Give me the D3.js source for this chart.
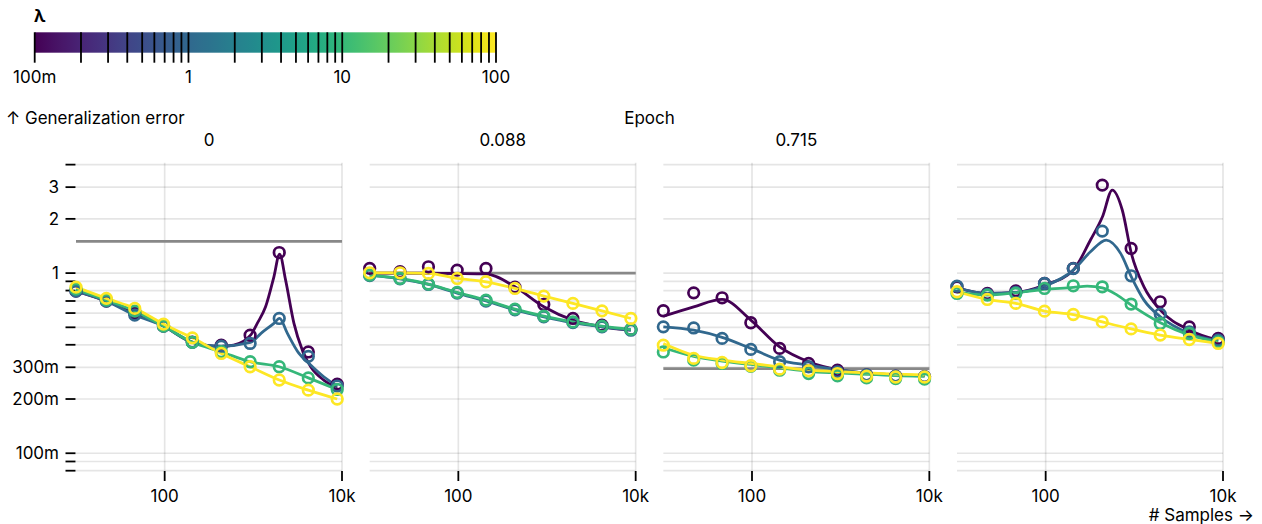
<!DOCTYPE html>
<html>
<head>
<meta charset="utf-8">
<script src="https://cdn.jsdelivr.net/npm/d3@7"></script>
<style>
  body { margin: 0; background: #fff; }
  svg { font-family: Inter, sans-serif; font-size: 17px; fill: #000; }
</style>
</head>
<body>
<script>
// regularisation strengths, one series each
const lambdas = [0.1, 1, 10, 100];
// facets
const epochs = ['0', '0.088', '0.715', ''];
const chanceLevel = [1.5, 1.0, 0.295, null];
const sampleSizes = [10, 22, 46, 97, 205, 435, 920, 1960, 4170, 8830];

const xTicks = [100, 10000];
const yTickLabels = [0.1, 0.2, 0.3, 1, 2, 3];
const legendTickLabels = [0.1, 1, 10, 100];

// measured error (circles), one row per lambda
const measured0 = [
  [0.794, 0.699, 0.600, 0.508, 0.414, 0.398, 0.452, 1.30, 0.365, 0.242],
  [0.794, 0.699, 0.585, 0.508, 0.413, 0.393, 0.407, 0.56, 0.345, 0.236],
  [0.815, 0.708, 0.615, 0.508, 0.413, 0.366, 0.322, 0.302, 0.262, 0.226],
  [0.836, 0.724, 0.637, 0.521, 0.437, 0.358, 0.302, 0.255, 0.224, 0.200],
];
const measured1 = [
  [1.062, 1.017, 1.084, 1.039, 1.062, 0.836, 0.670, 0.56, 0.514, 0.487],
  [0.970, 0.930, 0.865, 0.775, 0.700, 0.625, 0.572, 0.531, 0.503, 0.482],
  [0.975, 0.934, 0.869, 0.781, 0.708, 0.631, 0.577, 0.536, 0.508, 0.487],
  [1.004, 1.004, 0.996, 0.934, 0.895, 0.822, 0.745, 0.679, 0.617, 0.560],
];
const measured2 = [
  [0.618, 0.777, 0.729, 0.530, 0.382, 0.315, 0.289, 0.272, 0.268, 0.266],
  [0.503, 0.496, 0.434, 0.377, 0.322, 0.302, 0.283, 0.272, 0.268, 0.266],
  [0.365, 0.329, 0.315, 0.304, 0.289, 0.277, 0.269, 0.262, 0.260, 0.258],
  [0.398, 0.336, 0.319, 0.306, 0.293, 0.287, 0.277, 0.268, 0.265, 0.265],
];
const measured3 = [
  [0.839, 0.771, 0.797, 0.876, 1.062, 3.08, 1.37, 0.693, 0.503, 0.434],
  [0.847, 0.761, 0.781, 0.876, 1.060, 1.71, 0.966, 0.592, 0.472, 0.424],
  [0.771, 0.755, 0.771, 0.822, 0.850, 0.839, 0.673, 0.525, 0.462, 0.415],
  [0.788, 0.714, 0.679, 0.615, 0.589, 0.536, 0.490, 0.453, 0.428, 0.407],
];

// fitted curves (lines), [samples, error] pairs
const fit0 = [
  [[10, 0.794], [22, 0.699], [46, 0.6], [97, 0.508], [205, 0.414], [435, 0.392], [600, 0.398], [930, 0.452], [1107, 0.526], [1374, 0.65], [1706, 0.954], [1977, 1.275], [2312, 0.914], [2872, 0.526], [3573, 0.373], [4437, 0.302], [6280, 0.254], [8830, 0.23]],
  [[10, 0.794], [22, 0.699], [46, 0.585], [97, 0.508], [205, 0.413], [435, 0.393], [929, 0.412], [1220, 0.463], [1706, 0.526], [1977, 0.56], [2415, 0.464], [3273, 0.358], [4246, 0.315], [6280, 0.265], [8830, 0.236]],
  [[10, 0.815], [22, 0.708], [46, 0.615], [97, 0.508], [205, 0.413], [435, 0.366], [920, 0.322], [1960, 0.302], [4170, 0.262], [8830, 0.226]],
  [[10, 0.836], [22, 0.724], [46, 0.637], [97, 0.521], [205, 0.437], [435, 0.358], [920, 0.302], [1960, 0.255], [4170, 0.224], [8830, 0.2]],
];
const fit1 = [
  [[10, 1.0], [22, 1.0], [46, 0.998], [97, 0.995], [205, 0.99], [435, 0.839], [920, 0.65], [1960, 0.548], [4170, 0.503], [8830, 0.482]],
  [[10, 0.97], [22, 0.93], [46, 0.865], [97, 0.775], [205, 0.7], [435, 0.625], [920, 0.572], [1960, 0.531], [4170, 0.503], [8830, 0.482]],
  [[10, 0.975], [22, 0.934], [46, 0.869], [97, 0.781], [205, 0.708], [435, 0.631], [920, 0.577], [1960, 0.536], [4170, 0.508], [8830, 0.487]],
  [[10, 1.004], [22, 1.004], [46, 0.996], [97, 0.934], [205, 0.895], [435, 0.822], [920, 0.745], [1960, 0.679], [4170, 0.617], [8830, 0.56]],
];
const fit2 = [
  [[10, 0.576], [22, 0.65], [46, 0.714], [97, 0.548], [205, 0.389], [435, 0.322], [920, 0.291], [1960, 0.278], [4170, 0.272], [8830, 0.27]],
  [[10, 0.503], [22, 0.482], [46, 0.44], [97, 0.382], [205, 0.329], [435, 0.308], [920, 0.291], [1960, 0.278], [4170, 0.272], [8830, 0.268]],
  [[10, 0.385], [22, 0.345], [46, 0.325], [97, 0.311], [205, 0.298], [435, 0.285], [920, 0.279], [1960, 0.274], [4170, 0.27], [8830, 0.268]],
  [[10, 0.407], [22, 0.35], [46, 0.329], [97, 0.315], [205, 0.302], [435, 0.289], [920, 0.284], [1960, 0.279], [4170, 0.275], [8830, 0.272]],
];
const fit3 = [
  [[10, 0.829], [22, 0.771], [46, 0.781], [97, 0.858], [205, 1.039], [320, 1.526], [437, 2.055], [564, 2.89], [731, 2.24], [925, 1.287], [1285, 0.839], [1967, 0.623], [4200, 0.482], [8830, 0.424]],
  [[10, 0.829], [22, 0.771], [46, 0.781], [97, 0.847], [205, 1.039], [320, 1.313], [482, 1.526], [700, 1.287], [925, 0.954], [1285, 0.708], [1967, 0.572], [4200, 0.462], [8830, 0.42]],
  [[10, 0.787], [22, 0.755], [46, 0.777], [97, 0.812], [205, 0.833], [294, 0.847], [437, 0.829], [641, 0.755], [925, 0.664], [1967, 0.53], [4200, 0.453], [8830, 0.415]],
  [[10, 0.788], [22, 0.714], [46, 0.679], [97, 0.615], [205, 0.589], [435, 0.536], [920, 0.49], [1960, 0.453], [4170, 0.428], [8830, 0.407]],
];

const measured = [measured0, measured1, measured2, measured3];
const fits = [fit0, fit1, fit2, fit3];

const width = 1262, height = 524;
const plotTop = 162.7, plotBottom = 470.7;

const svg = d3.select('body').append('svg')
  .attr('width', width)
  .attr('height', height);

const color = d3.scaleSequentialLog(d3.interpolateViridis).domain([0.1, 100]);

// ---- legend ----
const lx = d3.scaleLog().domain([0.1, 100]).range([34.7, 496]);
const grad = svg.append('defs').append('linearGradient').attr('id', 'ramp');
d3.range(0, 1.0001, 0.02).forEach(t => {
  grad.append('stop').attr('offset', t).attr('stop-color', d3.interpolateViridis(t));
});
svg.append('rect')
  .attr('x', 34.7).attr('y', 32.3)
  .attr('width', 496 - 34.7).attr('height', 20.4)
  .attr('fill', 'url(#ramp)');
svg.append('g').selectAll('line')
  .data(lx.ticks())
  .join('line')
  .attr('x1', d => lx(d)).attr('x2', d => lx(d))
  .attr('y1', 32.3).attr('y2', 62.7)
  .attr('stroke', '#000').attr('stroke-width', 1.8);
svg.append('g').selectAll('text')
  .data(legendTickLabels)
  .join('text')
  .attr('x', d => lx(d)).attr('y', 83)
  .attr('text-anchor', 'middle')
  .text(d3.format('~s'));
svg.append('text')
  .attr('x', 34).attr('y', 22)
  .attr('font-weight', 'bold')
  .text('λ');

// ---- scales ----
const fx = d3.scaleBand().domain(d3.range(epochs.length)).range([76, 1223]).paddingInner(0.0942);
const x = d3.scaleLog().domain([10, 10000]).range([0, fx.bandwidth()]);
const y = d3.scaleLog().domain([0.08, 4.1]).range([plotBottom, plotTop]);

svg.append('text').attr('x', 6).attr('y', 124).text('↑ Generalization error');
svg.append('text').attr('x', 649.5).attr('y', 124).attr('text-anchor', 'middle').text('Epoch');
svg.append('text').attr('x', 1254).attr('y', 521).attr('text-anchor', 'end').text('# Samples →');

// y axis (first facet only)
const yAxis = svg.append('g');
yAxis.selectAll('line')
  .data(y.ticks())
  .join('line')
  .attr('x1', 65.5).attr('x2', 75.5)
  .attr('y1', d => y(d)).attr('y2', d => y(d))
  .attr('stroke', '#000').attr('stroke-width', 1.8);
yAxis.selectAll('text')
  .data(yTickLabels)
  .join('text')
  .attr('x', 59).attr('y', d => y(d))
  .attr('dy', '0.36em')
  .attr('text-anchor', 'end')
  .text(d3.format('~s'));

const lineFunction = d3.line()
  .x(d => x(d[0]))
  .y(d => y(d[1]))
  .curve(d3.curveMonotoneX);

epochs.forEach((epoch, i) => {
  const g = svg.append('g').attr('transform', `translate(${fx(i)},0)`);
  const w = fx.bandwidth();

  g.append('text')
    .attr('x', w / 2).attr('y', 146)
    .attr('text-anchor', 'middle')
    .text(epoch);

  g.append('g').selectAll('line')
    .data(y.ticks())
    .join('line')
    .attr('x1', 0).attr('x2', w)
    .attr('y1', d => y(d)).attr('y2', d => y(d))
    .attr('stroke', '#000').attr('stroke-opacity', 0.1).attr('stroke-width', 1.7);
  g.append('g').selectAll('line')
    .data(xTicks)
    .join('line')
    .attr('x1', d => x(d)).attr('x2', d => x(d))
    .attr('y1', plotTop).attr('y2', plotBottom)
    .attr('stroke', '#000').attr('stroke-opacity', 0.1).attr('stroke-width', 1.7);

  if (chanceLevel[i] != null) {
    g.append('line')
      .attr('x1', 0).attr('x2', w)
      .attr('y1', y(chanceLevel[i])).attr('y2', y(chanceLevel[i]))
      .attr('stroke', '#888').attr('stroke-width', 2.6);
  }

  lambdas.forEach((lam, j) => {
    g.append('path')
      .attr('d', lineFunction(fits[i][j]))
      .attr('fill', 'none')
      .attr('stroke', color(lam))
      .attr('stroke-width', 2.8);
  });
  lambdas.forEach((lam, j) => {
    g.append('g').selectAll('circle')
      .data(measured[i][j])
      .join('circle')
      .attr('cx', (d, k) => x(sampleSizes[k]))
      .attr('cy', d => y(d))
      .attr('r', 5.3)
      .attr('fill', 'none')
      .attr('stroke', color(lam))
      .attr('stroke-width', 2.7);
  });

  const xa = g.append('g');
  xa.selectAll('line')
    .data(xTicks)
    .join('line')
    .attr('x1', d => x(d)).attr('x2', d => x(d))
    .attr('y1', 471).attr('y2', 481)
    .attr('stroke', '#000').attr('stroke-width', 1.8);
  xa.selectAll('text')
    .data(xTicks)
    .join('text')
    .attr('x', d => x(d)).attr('y', 501.7)
    .attr('text-anchor', 'middle')
    .text(d3.format('~s'));
});
</script>
</body>
</html>
